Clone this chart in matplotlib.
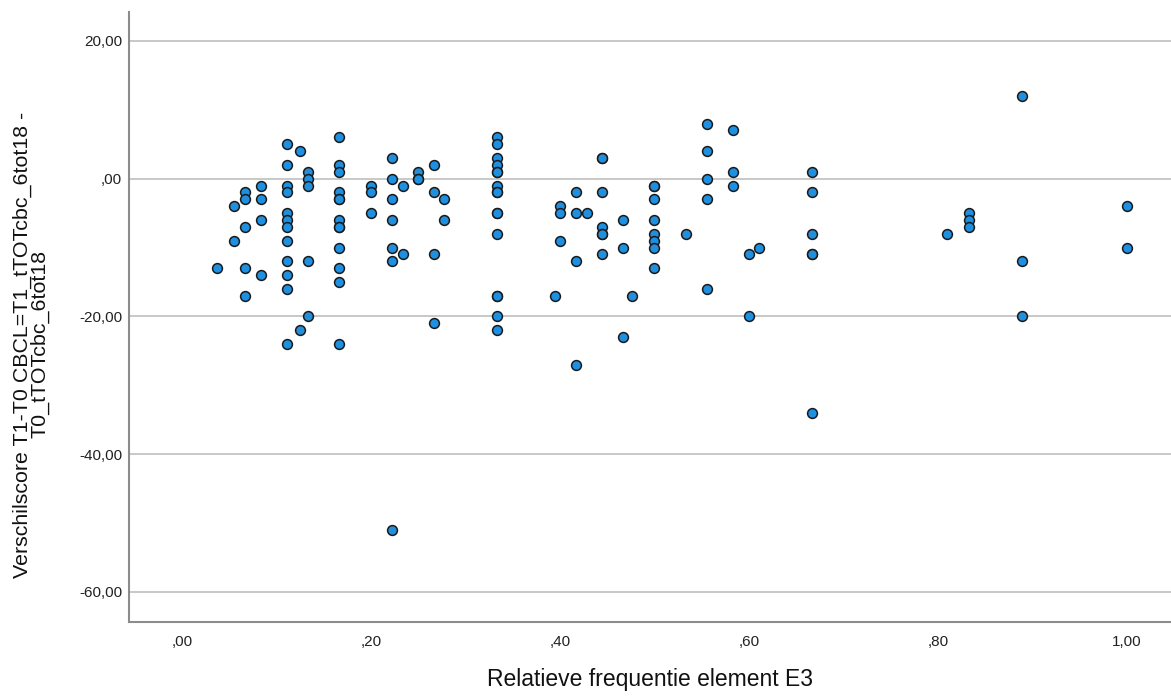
import matplotlib
matplotlib.use("Agg")
import matplotlib.pyplot as plt
from matplotlib.ticker import FuncFormatter

plt.rcParams['font.family'] = ['Liberation Sans', 'DejaVu Sans']

# relative frequency of element E3 -> difference scores T1-T0
freq_groups = [1/27, 1/18, 1/15, 1/12, 1/9, 1/8, 2/15, 1/6, 0.2, 2/9, 0.2335,
               0.25, 4/15, 5/18, 1/3, 0.395, 0.4, 5/12, 3/7, 4/9, 7/15, 10/21,
               0.5, 8/15, 5/9, 7/12, 0.6, 11/18, 2/3, 17/21, 5/6, 8/9, 1.0]
score_groups = [
    [-13],
    [-4, -9],
    [-2, -3, -7, -13, -17],
    [-1, -3, -6, -14],
    [5, 2, -1, -2, -5, -6, -7, -9, -12, -14, -16, -24],
    [4, -22],
    [1, 0, -1, -12, -20],
    [6, 2, 1, -2, -3, -3, -6, -7, -7, -10, -13, -15, -24],
    [-1, -2, -5],
    [3, 0, -3, -6, -10, -12, -51],
    [-1, -11],
    [1, 0, 0],
    [2, -2, -11, -21],
    [-3, -6],
    [6, 5, 3, 2, 1, 1, -1, -2, -2, -5, -5, -8, -17, -17, -20, -22],
    [-17],
    [-4, -5, -9],
    [-2, -5, -12, -27],
    [-5],
    [3, 3, -2, -7, -8, -8, -11],
    [-6, -10, -23],
    [-17],
    [-1, -1, -3, -6, -8, -9, -10, -13],
    [-8],
    [8, 4, 0, -3, -16],
    [7, 1, -1],
    [-11, -20],
    [-10],
    [1, -2, -8, -11, -11, -34],
    [-8],
    [-5, -6, -7],
    [12, -12, -20],
    [-4, -10],
]

x = [f for f, grp in zip(freq_groups, score_groups) for _ in grp]
y = [v for grp in score_groups for v in grp]

W, H = 1171, 697
fig = plt.figure(figsize=(W / 100, H / 100), dpi=100)
ax = fig.add_axes([129 / W, (H - 622) / H, (W - 129) / W, (622 - 12) / H])

ax.scatter(x, y, s=50, facecolor='#1f8fe0', edgecolor='#1a1a1a',
           linewidth=1.1, zorder=3)

ax.set_xlim(-0.056, 1.0466)
ax.set_ylim(-64.36, 24.2)
ax.set_xticks([0, 0.2, 0.4, 0.6, 0.8, 1.0])
ax.set_yticks([20, 0, -20, -40, -60])

def dutch(v, pos):
    s = f"{v:.2f}".replace('.', ',')
    if s.startswith('0,'):
        s = s[1:]
    elif s.startswith('-0,'):
        s = s[2:]
    return s

ax.xaxis.set_major_formatter(FuncFormatter(dutch))
ax.yaxis.set_major_formatter(FuncFormatter(dutch))

ax.grid(axis='y', color='#c4c4c4', linewidth=1.3, zorder=0)
ax.set_axisbelow(True)
for side in ['top', 'right']:
    ax.spines[side].set_visible(False)
for side in ['left', 'bottom']:
    ax.spines[side].set_color('#8c8c8c')
    ax.spines[side].set_linewidth(1.5)

ax.tick_params(axis='both', length=0, labelsize=11, colors='#222222')
ax.tick_params(axis='x', pad=9)
ax.tick_params(axis='y', pad=5)

ax.set_xlabel('Relatieve frequentie element E3', fontsize=16.5, color='#111111',
              va='top')
ax.xaxis.set_label_coords(0.5, -0.076)
ax.set_ylabel('Verschilscore T1-T0 CBCL=T1_tTOTcbc_6tot18 -\nT0_tTOTcbc_6tot18',
              fontsize=15.4, color='#111111', linespacing=0.85)
ax.yaxis.set_label_coords(-0.0765, 0.455)

fig.savefig('out.png', dpi=100)
